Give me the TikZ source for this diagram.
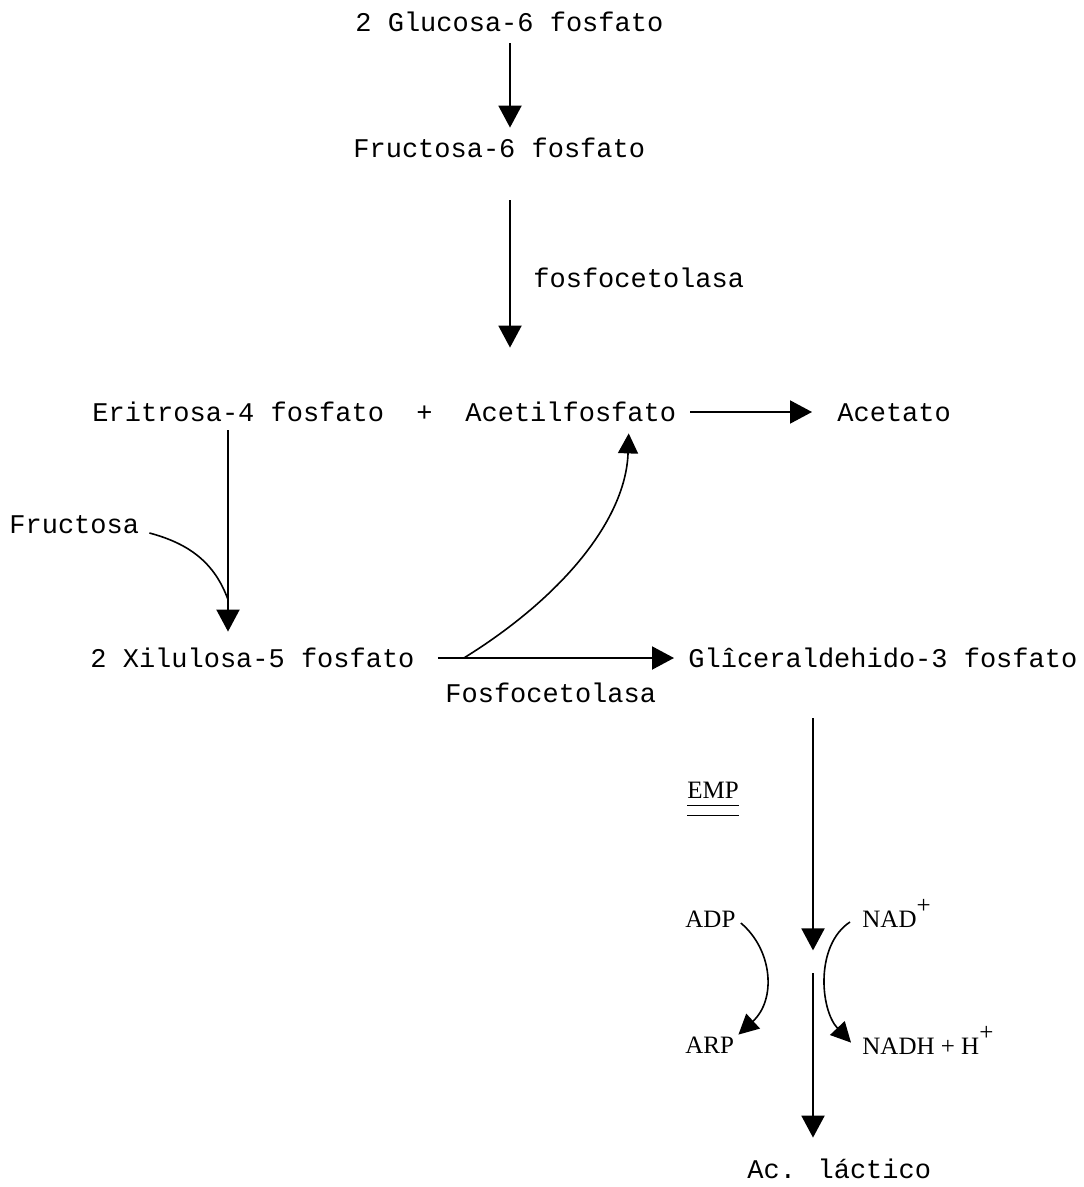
\documentclass[tikz,border=0pt]{standalone}
\usepackage{fontspec}
\newfontfamily\tw{Liberation Mono}
\newfontfamily\sr{Liberation Serif}
\usetikzlibrary{arrows.meta,calc}
\tikzset{txt/.style={font=\tw\fontsize{13.5}{16}\selectfont,inner sep=0pt,anchor=base west,text height=9pt,text depth=0pt},
	 lab/.style={font=\sr\fontsize{12.5}{15}\selectfont,inner sep=0pt,anchor=base west,text height=8pt,text depth=0pt},
	 arr/.style={-{Triangle[length=11pt,width=11.5pt]},line width=1pt},
	 carr/.style={-{Triangle[length=10pt,width=10pt]},line width=.8pt}
	 }
\newcommand{\sups}{\raisebox{.55em}{+}}

\begin{document}
\begin{tikzpicture}[x=0.5pt,y=-0.5pt] % heterolactic pathway (phosphoketolase)
	\useasboundingbox (0,0) rectangle (1083,1187);
	\coordinate (colA) at (510,0);
	\coordinate (colB) at (228,0);
	\coordinate (colC) at (813,0);
	\node[txt] (glu) at (355,32) {2 Glucosa-6 fosfato};
	\node[txt] (fru) at (353,158) {Fructosa-6 fosfato};
	\node[txt] (fpk) at (533,288) {fosfocetolasa};
	\node[txt] (eri) at (92,421) {Eritrosa-4 fosfato};
	\node[txt] (plus) at (416,421) {+};
	\node[txt] (acp) at (465,421) {Acetilfosfato};
	\node[txt] (ace) at (837,421) {Acetato};
	\node[txt] (fruc) at (9,533) {Fructosa};
	\node[txt] (xil) at (90,667) {2 Xilulosa-5 fosfato};
	\node[txt] (gli) at (688,667) {Glîceraldehido-3 fosfato};
	\node[txt] (fpk2) at (445,702) {Fosfocetolasa};
	\node[lab] (emp) at (687,798) {EMP};
	\node[lab] (adp) at (685,927) {ADP};
	\node[lab] (arp) at (685,1053) {ARP};
	\node[lab] (nad) at (862,927) {NAD\sups};
	\node[lab] (nadh) at (862,1054) {NADH + H\sups};
	\node[txt] (lac) at (747,1178) {Ac. láctico};
	\coordinate (join) at ($(xil.north -| colB)+(0,-49)$);
	\coordinate (fork) at ($(xil.east)+(49,0)$);
	\coordinate (brk1) at ($(gli.south -| colC)+(0,283)$);
	\coordinate (brk2) at ($(gli.south -| colC)+(0,306)$);
	\draw[arr] ($(glu.south -| colA)+(0,11)$) -- ($(fru.north -| colA)+(0,-12)$);
	\draw[arr] ($(fru.south -| colA)+(0,42)$) -- ($(eri.north -| colA)+(0,-55)$);
	\draw[arr] ($(acp.east)+(14,0)$) -- ($(ace.west)+(-25,0)$);
	\draw[arr] ($(eri.south -| colB)+(0,9)$) -- ($(xil.north -| colB)+(0,-17)$);
	\draw[line width=.8pt] ($(fruc.east)+(10,9)$) to[out=-15,in=110] (join);
	\draw[arr] ($(xil.east)+(23,0)$) -- ($(gli.west)+(-14,0)$);
	\draw[carr] (fork) .. controls +(97,-60) and +(-3,87) .. ($(acp.south)+(58,12)$);
	\draw[arr] ($(gli.south -| colC)+(0,51)$) -- (brk1);
	\draw[arr] (brk2) -- ($(lac.north -| colC)+(0,-22)$);
	\draw[line width=.8pt] ($(emp.south west)+(0,7)$) -- ($(emp.south east)+(0,7)$);
	\draw[line width=.8pt] ($(emp.south west)+(0,17)$) -- ($(emp.south east)+(0,17)$);
	\draw[carr] ($(adp.east)+(5,4)$) .. controls +(32,27) and +(38,-35) .. ($(arp.north east)+(4,-2)$);
	\draw[carr] ($(nad.west)+(-12,3)$) .. controls +(-35,23) and +(-31,-33) .. ($(nadh.north west)+(-11,5)$);
\end{tikzpicture}
\end{document}
